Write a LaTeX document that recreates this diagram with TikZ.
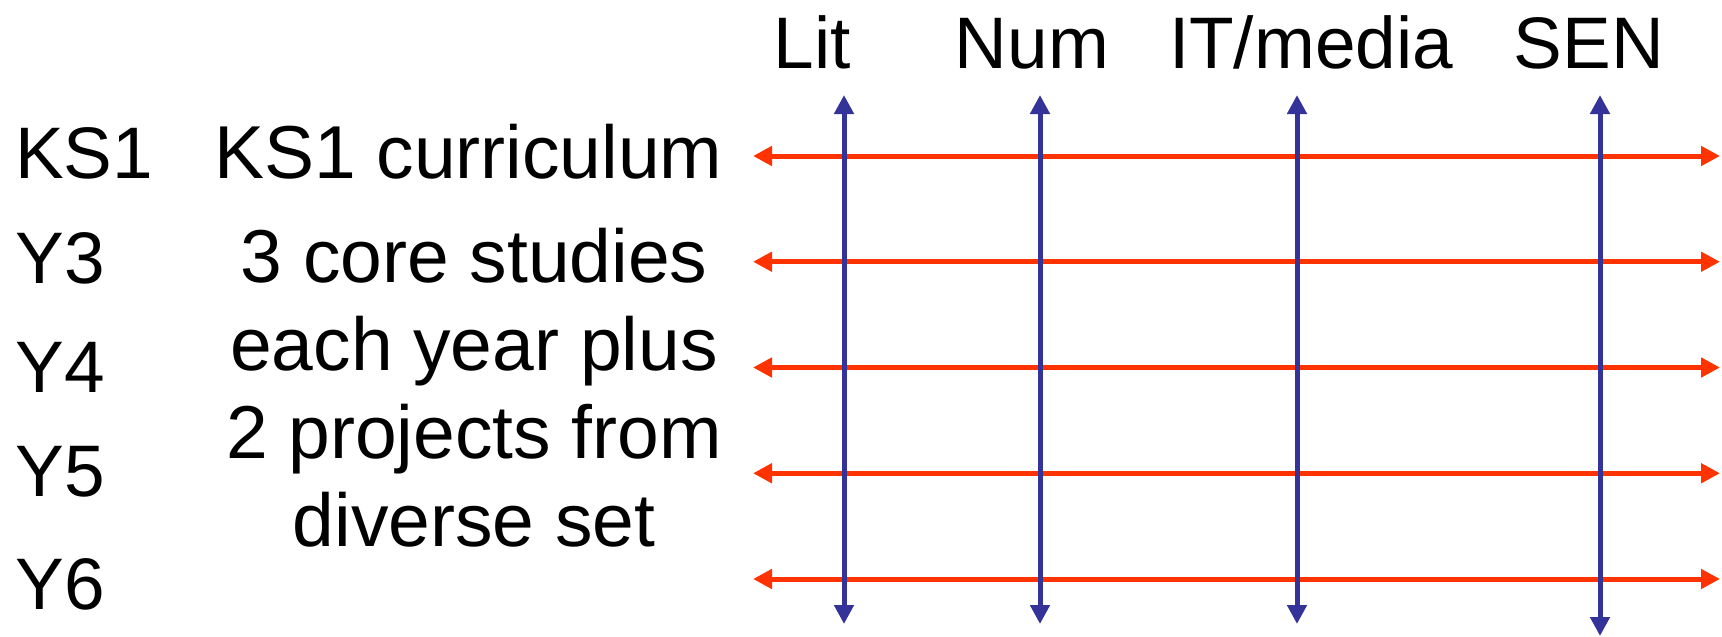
\documentclass[tikz,border=0pt]{standalone}
\usepackage{fontspec}
\setmainfont{Liberation Sans}
\usetikzlibrary{arrows.meta}
\definecolor{rowred}{HTML}{FF3300}
\definecolor{colblue}{HTML}{333399}
\begin{document}
\begin{tikzpicture}[x=1pt,y=-1pt,
  lbl/.style={inner sep=0pt,outer sep=0pt,font=\fontsize{73}{88}\selectfont},
  midlbl/.style={inner sep=0pt,outer sep=0pt,font=\fontsize{75}{88}\selectfont},
  rowarrow/.style={draw=rowred,line width=5pt,{Triangle[length=19pt,width=19pt]}-{Triangle[length=19pt,width=19pt]}},
  colarrow/.style={draw=colblue,line width=5pt,{Triangle[length=19pt,width=19pt]}-{Triangle[length=19pt,width=19pt]}}]
\useasboundingbox (0,0) rectangle (1722,637);
% headers
\node[lbl,anchor=base] (hLit) at (812,68) {Lit};
\node[lbl,anchor=base] (hNum) at (1032,68) {Num};
\node[lbl,anchor=base] (hIT) at (1311,68) {IT/media};
\node[lbl,anchor=base] (hSEN) at (1589,68) {SEN};
% left labels
\node[lbl,anchor=base west] (ks1) at (15,178) {KS1};
\node[lbl,anchor=base west] (y3) at (16,283) {Y3};
\node[lbl,anchor=base west] (y4) at (16,392) {Y4};
\node[lbl,anchor=base west] (y5) at (16,496) {Y5};
\node[lbl,anchor=base west] (y6) at (16,609) {Y6};
% middle texts
\node[midlbl,anchor=base west] (ks1c) at (214,178) {KS1 curriculum};
\node[midlbl,anchor=base,align=center] (core) at (474,546) {3 core studies\\each year plus\\2 projects from\\diverse set};
% row arrows
\foreach \i/\y in {1/156,2/261.75,3/367.5,4/473.25,5/579}{
  \coordinate (rL\i) at (753,\y);
  \coordinate (rR\i) at (1720,\y);
  \draw[rowarrow] (rL\i) -- (rR\i);
}
% column arrows
\coordinate (cT1) at (844,95);  \coordinate (cB1) at (844,624);
\coordinate (cT2) at (1040,95); \coordinate (cB2) at (1040,624);
\coordinate (cT3) at (1297,95); \coordinate (cB3) at (1297,624);
\coordinate (cT4) at (1600,95); \coordinate (cB4) at (1600,636);
\foreach \i in {1,2,3,4}{
  \draw[colarrow] (cT\i) -- (cB\i);
}
\end{tikzpicture}
\end{document}
